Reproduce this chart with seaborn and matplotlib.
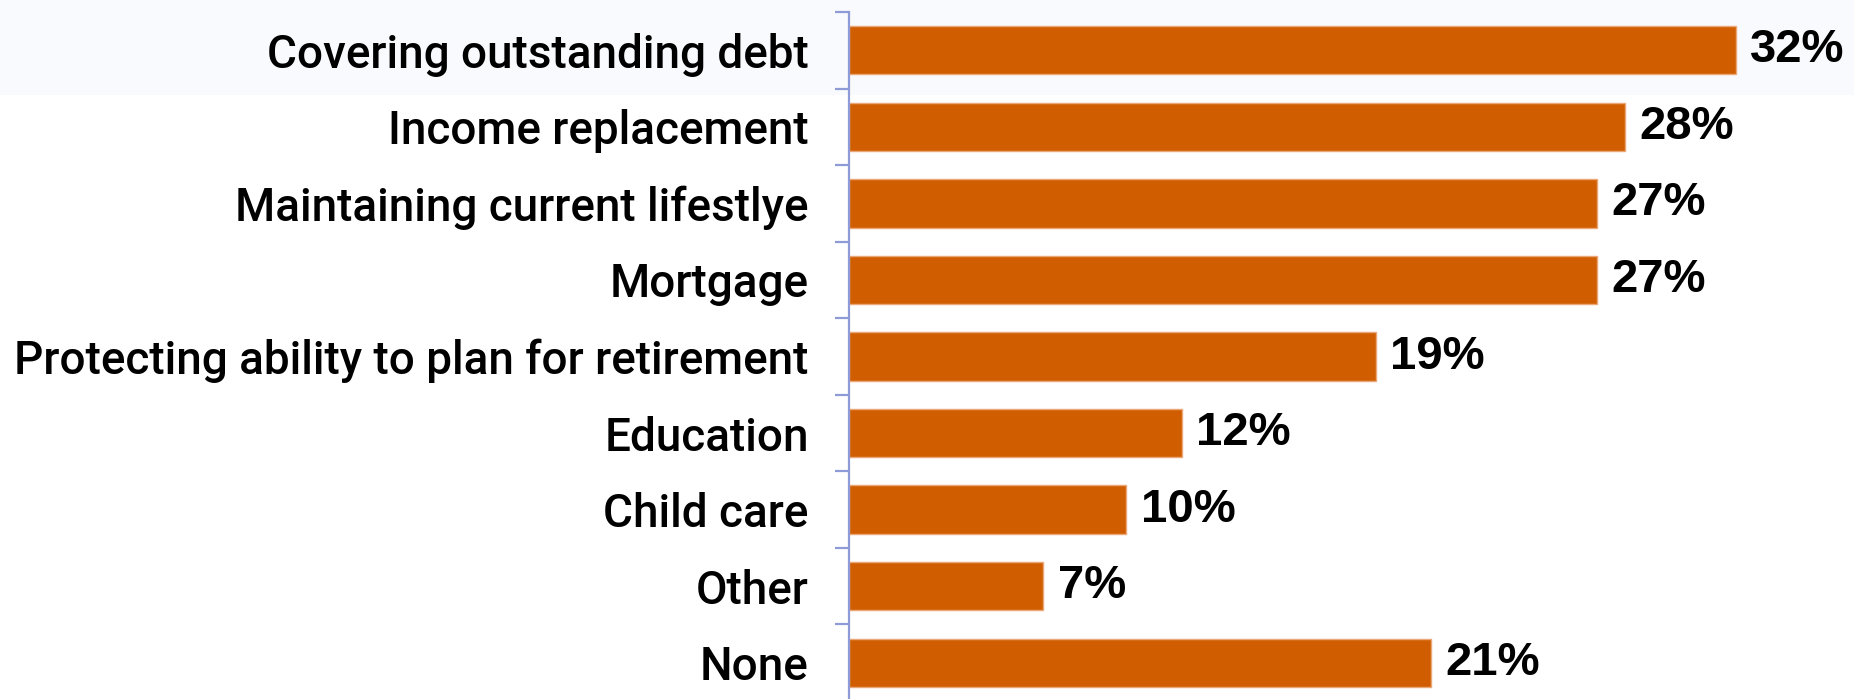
import matplotlib
matplotlib.use("Agg")
import matplotlib.pyplot as plt
from matplotlib.patches import Rectangle
import seaborn as sns
import pandas as pd

categories = [
    "Covering outstanding debt",
    "Income replacement",
    "Maintaining current lifestlye",
    "Mortgage",
    "Protecting ability to plan for retirement",
    "Education",
    "Child care",
    "Other",
    "None",
]
values = [32, 28, 27, 27, 19, 12, 10, 7, 21]

BAR = "#D05E00"
AXIS = "#8E9BD6"

sns.set_theme(style="white")
plt.rcParams["font.family"] = ["Roboto", "DejaVu Sans"]

W, H = 1854, 699
fig = plt.figure(figsize=(W / 100, H / 100), dpi=100)
fig.patch.set_facecolor("white")
# pale band across the top, behind everything
fig.patches.append(Rectangle((0, 1 - 95 / H), 1, 95 / H, transform=fig.transFigure,
                             facecolor="#F9FAFD", edgecolor="none", zorder=-10))

ax = fig.add_axes([849 / W, -2 / H, 970 / W, 689 / H])
ax.patch.set_alpha(0)

df = pd.DataFrame({"category": categories, "value": values})
sns.barplot(data=df, x="value", y="category", orient="h", color=BAR,
            saturation=1, width=0.63, edgecolor="#EBA777", linewidth=1.0, ax=ax)

ax.set_xlim(0, 35)
ax.set_ylim(len(categories) - 0.5, -0.5)
ax.set_xlabel("")
ax.set_ylabel("")
ax.set_xticks([])

for s in ["top", "right", "bottom"]:
    ax.spines[s].set_visible(False)
ax.spines["left"].set_color(AXIS)
ax.spines["left"].set_linewidth(1.6)

ax.set_yticks(range(len(categories)))
ax.set_yticklabels(categories, fontsize=33, fontweight="medium", color="black")
ax.tick_params(axis="y", which="major", length=0, pad=29)
ax.set_yticks([i - 0.5 for i in range(len(categories) + 1)], minor=True)
ax.tick_params(axis="y", which="minor", length=10, width=1.6, color=AXIS, left=True)

for bar, v in zip(ax.patches, values):
    y = bar.get_y() + bar.get_height() / 2
    ax.annotate(f"{v}%", xy=(bar.get_width(), y), xytext=(10.5, 0),
                textcoords="offset points", va="center", ha="left",
                fontsize=34, fontweight="bold", family=["Liberation Sans", "DejaVu Sans"],
                color="black")

fig.savefig("out.png", dpi=100)
